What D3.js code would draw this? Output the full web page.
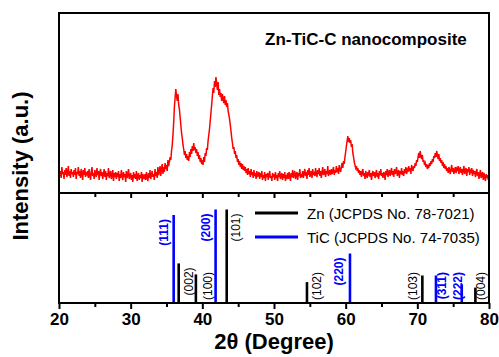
<!DOCTYPE html>
<html><head><meta charset="utf-8">
<script src="https://cdn.jsdelivr.net/npm/d3@7"></script>
<style>
html,body{margin:0;padding:0;background:#fff;}
svg{display:block;font-family:"Liberation Sans",Arial,sans-serif;}
</style></head>
<body>
<svg id="chart" width="499" height="357"></svg>
<script>
// ---------- DATA ----------
const twoThetaStart = 20, twoThetaStep = 0.1;
const xrdIntensity = [
24,17,22,15,26,19,21,14,23,18,25,16,20,27,17,22,15,24,19,21,
16,23,18,25,14,21,19,26,17,22,15,24,20,13,23,18,25,16,21,19,
22,15,24,18,13,21,26,17,20,14,23,19,16,25,18,22,13,20,24,17,
21,14,19,24,16,22,13,20,17,25,15,19,22,14,18,23,12,20,16,21,
14,20,16,22,12,19,15,23,17,13,21,16,19,11,22,15,18,24,14,17,
20,13,18,11,21,15,19,14,22,12,17,20,13,18,15,21,11,19,16,14,
19,13,21,16,12,20,15,23,14,18,22,16,19,13,24,17,21,15,26,18,
22,27,17,24,29,19,26,21,30,24,28,22,33,27,31,36,33,42,48,58,
70,86,95,104,97,92,99,88,84,76,68,60,55,48,44,38,42,35,39,33,
37,32,41,36,44,39,47,42,50,43,46,40,44,37,41,34,38,31,35,29,
33,28,36,31,40,37,45,43,52,58,64,72,80,88,97,105,100,112,106,116,
109,103,111,98,104,96,100,92,99,94,90,97,88,93,86,90,82,78,74,68,
62,55,50,44,46,39,42,35,38,31,34,28,32,26,30,24,29,23,27,22,
26,20,24,18,25,19,22,16,24,18,21,15,23,17,20,14,22,16,19,21,
14,20,16,22,13,18,15,21,12,19,16,20,13,18,22,15,17,12,20,16,
19,13,21,15,18,12,20,16,22,14,17,20,13,19,15,21,12,18,16,20,
14,21,17,12,20,16,23,15,19,22,14,18,21,13,20,17,24,15,19,16,
22,15,20,24,17,21,14,23,18,25,16,20,22,15,24,18,21,17,25,19,
16,23,19,25,17,22,15,21,26,18,20,24,16,22,19,27,17,21,23,18,
24,19,22,26,18,23,20,27,21,25,19,28,23,21,26,30,25,32,29,36,
41,47,52,57,51,55,50,53,46,49,40,36,31,28,25,27,22,25,20,23,
18,22,16,21,24,17,20,14,22,18,15,21,19,23,16,20,13,19,22,17,
21,15,19,23,16,20,14,22,18,24,17,20,15,21,19,13,22,18,24,16,
20,23,17,21,25,18,22,16,24,19,21,26,17,20,23,15,22,19,25,18,
22,17,24,20,26,19,23,21,27,22,25,19,28,24,22,27,25,30,27,33,
31,36,40,35,42,37,34,38,31,33,28,30,26,29,24,28,25,30,27,32,
29,34,31,37,35,40,36,42,38,34,39,32,35,30,33,27,31,25,29,24,
27,22,25,20,26,23,19,24,28,21,25,19,23,26,20,24,22,27,19,23,
26,20,24,18,23,27,19,22,25,17,24,21,26,18,22,20,25,17,23,19,
22,16,20,24,17,21,14,19,23,15,18,21,13,20,16,12,19,15,18,13,
16
];
const znPos   = [36.7, 39.1, 43.4, 54.6, 70.7, 78.1];
const znInt   = [36, 26, 85, 19, 25, 14];
const znHkl   = ["(002)", "(100)", "(101)", "(102)", "(103)", "(004)"];
const ticPos  = [36.0, 41.85, 60.6, 72.6, 76.2];
const ticInt  = [80, 85, 45, 25, 17];
const ticHkl  = ["(111)", "(200)", "(220)", "(311)", "(222)"];
const xTicks  = [20, 30, 40, 50, 60, 70, 80];
const legendLabels = ["Zn  (JCPDS No. 78-7021)", "TiC (JCPDS No. 74-7035)"];
const titleText = "Zn-TiC-C nanocomposite";

// label placement (layout only): horizontal offset from bar
const znLabelDx  = [10, 12, 9, 10, -9, 6];
const ticLabelDx = [-10, -10, -11, 6, -4];

// ---------- LAYOUT ----------
const L = 59, R = 489, T = 13, M = 193, B = 303;
const svg = d3.select("#chart");
const x = d3.scaleLinear().domain([20, 80]).range([L, R]);
const yTop = d3.scaleLinear().domain([0, 180]).range([M, T]);
const yBot = d3.scaleLinear().domain([0, 100]).range([B, M]);

// spectrum
const pts = xrdIntensity.map((v, i) => [twoThetaStart + i * twoThetaStep, v]);
svg.append("path")
  .datum(pts)
  .attr("fill", "none")
  .attr("stroke", "#ff0000")
  .attr("stroke-width", 1.5)
  .attr("d", d3.line().x(d => x(d[0])).y(d => yTop(d[1])));

// reference bars
function drawBars(pos, inten, hkl, dx, color, bold) {
  const g = svg.append("g");
  pos.forEach((p, i) => {
    g.append("line")
      .attr("x1", x(p)).attr("x2", x(p))
      .attr("y1", yBot(0)).attr("y2", yBot(inten[i]))
      .attr("stroke", color).attr("stroke-width", 2.6);
    const topY = Math.min(yBot(inten[i]) + 4, B - 31);
    g.append("text")
      .attr("transform", `translate(${x(p) + dx[i]},${topY}) rotate(-90)`)
      .attr("text-anchor", "end")
      .attr("dominant-baseline", "central")
      .attr("font-size", 12)
      .attr("font-weight", bold ? "bold" : "normal")
      .attr("fill", color)
      .text(hkl[i]);
  });
}
drawBars(znPos, znInt, znHkl, znLabelDx, "#000", false);
drawBars(ticPos, ticInt, ticHkl, ticLabelDx, "#0000ff", true);

// frames
svg.append("rect").attr("x", L).attr("y", T).attr("width", R - L).attr("height", B - T)
  .attr("fill", "none").attr("stroke", "#000").attr("stroke-width", 2);
svg.append("line").attr("x1", L).attr("x2", R).attr("y1", M).attr("y2", M)
  .attr("stroke", "#000").attr("stroke-width", 2);

// bottom axis (outward ticks)
const minorTicks = d3.range(25, 80, 10);
const bottomAxis = d3.axisBottom(x).tickValues(xTicks).tickSize(6).tickFormat(d3.format("d"));
const gb = svg.append("g").attr("transform", `translate(0,${B})`).call(bottomAxis);
gb.select(".domain").remove();
gb.selectAll(".tick line").attr("stroke-width", 2);
gb.selectAll(".tick text").attr("font-size", 17).attr("font-weight", "bold")
  .attr("font-family", "'Liberation Sans',Arial,sans-serif").attr("dy", 0).attr("y", 22);
const gbm = svg.append("g").attr("transform", `translate(0,${B})`)
  .call(d3.axisBottom(x).tickValues(minorTicks).tickSize(4).tickFormat(""));
gbm.select(".domain").remove();
gbm.selectAll(".tick line").attr("stroke-width", 2);

// middle axis inward ticks (into lower panel)
const gm = svg.append("g").attr("transform", `translate(0,${M})`)
  .call(d3.axisBottom(x).tickValues(xTicks.slice(1, -1)).tickSize(5).tickFormat(""));
gm.select(".domain").remove();
gm.selectAll(".tick line").attr("stroke-width", 2);
const gmm = svg.append("g").attr("transform", `translate(0,${M})`)
  .call(d3.axisBottom(x).tickValues(minorTicks).tickSize(4).tickFormat(""));
gmm.select(".domain").remove();
gmm.selectAll(".tick line").attr("stroke-width", 2);

// titles
svg.append("text").attr("x", (L + R) / 2).attr("y", 349).attr("text-anchor", "middle")
  .attr("font-size", 22).attr("font-weight", "bold").text("2θ (Degree)");
svg.append("text").attr("transform", `translate(28,166) rotate(-90)`).attr("text-anchor", "middle")
  .attr("font-size", 22).attr("font-weight", "bold").text("Intensity (a.u.)");
svg.append("text").attr("x", 265).attr("y", 45)
  .attr("font-size", 17).attr("font-weight", "bold").text(titleText);

// legend
const legColors = ["#000", "#0000ff"];
legendLabels.forEach((lab, i) => {
  const ly = 213 + i * 24;
  svg.append("line").attr("x1", 255).attr("x2", 298).attr("y1", ly).attr("y2", ly)
    .attr("stroke", legColors[i]).attr("stroke-width", 2.8);
  svg.append("text").attr("x", 307).attr("y", ly + 5.5).attr("font-size", 15).text(lab);
});
</script>
</body></html>
